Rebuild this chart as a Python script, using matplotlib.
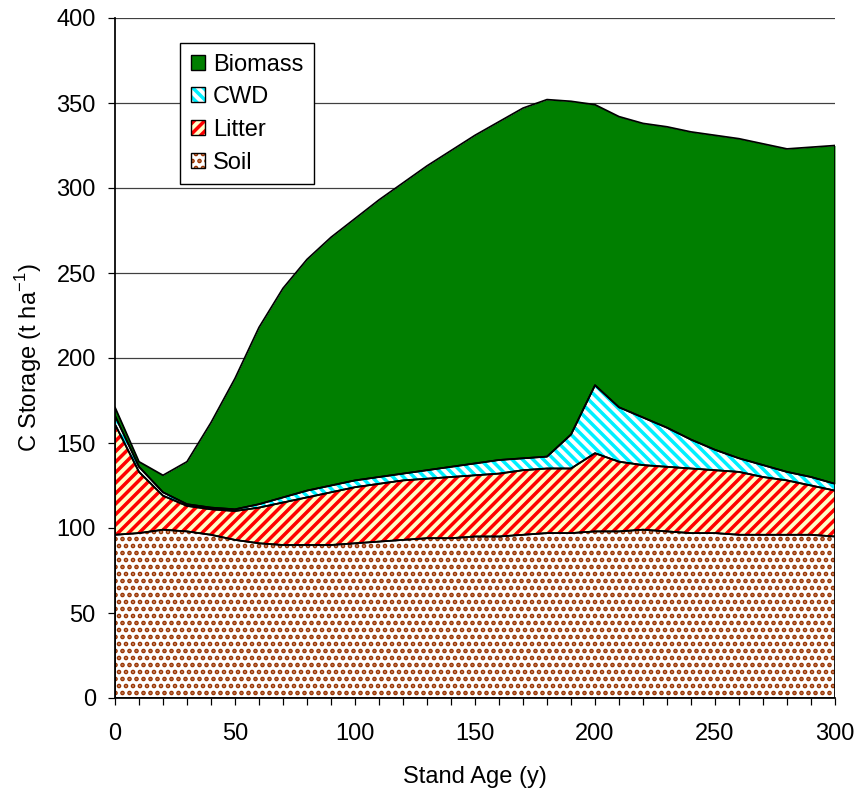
import numpy as np
import matplotlib
matplotlib.use('Agg')
import matplotlib.pyplot as plt
from matplotlib.patches import Patch, Rectangle
from matplotlib.ticker import MultipleLocator

# stand age (y) and carbon pools (t/ha)
age = np.arange(0, 301, 10)
soil = [96, 97, 99, 98, 96, 93, 91, 90, 90, 90, 91, 92, 93, 94, 94, 95,
        95, 96, 97, 97, 98, 98, 99, 98, 97, 97, 96, 96, 96, 96, 95]
litter = [65, 36, 20, 15, 15, 17, 21, 25, 28, 31, 33, 34, 35, 35, 36, 36,
          37, 38, 38, 38, 46, 41, 38, 38, 38, 37, 37, 34, 32, 29, 27]
cwd = [5, 3, 2, 1, 1, 1, 2, 3, 4, 4, 4, 4, 4, 5, 6, 7,
       8, 7, 7, 20, 40, 32, 28, 23, 17, 12, 8, 7, 5, 5, 4]
biomass = [5, 3, 10, 25, 50, 77, 104, 123, 136, 146, 154, 163, 171, 179, 186, 193,
           199, 206, 210, 196, 165, 171, 173, 177, 181, 185, 188, 189, 190, 194, 199]

names = ['Soil', 'Litter', 'CWD', 'Biomass']
# (face colour, hatch colour, hatch, hatch linewidth)
styles = [('white', '#993300', '...', 1.8),
          ('#ffffc8', '#ff0000', '////', 2.0),
          ('white', '#00f0ff', '\\\\\\\\', 2.0),
          ('#007f00', '#007f00', None, 1.0)]
hatch_lw = {s[2]: s[3] for s in styles if s[2]}

DPI = 126
plt.rcParams['font.family'] = ['Liberation Sans', 'DejaVu Sans']
plt.rcParams['font.size'] = 13.5

fig = plt.figure(figsize=(859 / DPI, 794 / DPI), dpi=DPI)
ax = fig.add_axes([115 / 859, 1 - 698 / 794, 720 / 859, 680 / 794])

layers = np.cumsum(np.array([soil, litter, cwd, biomass], dtype=float), axis=0)
bottom = np.zeros(len(age))
handles = []
for name, top, (fc, hc, hatch, hlw) in zip(names, layers, styles):
    # hatch linewidth gets picked up when the artist is created
    with plt.rc_context({'hatch.linewidth': hlw}):
        ax.fill_between(age, bottom, top, facecolor=fc, edgecolor=hc,
                        hatch=hatch, linewidth=0, zorder=2)
        h = Patch(facecolor=fc, edgecolor=hc, hatch=hatch, linewidth=0)
    ax.fill_between(age, bottom, top, facecolor='none', edgecolor='black',
                    linewidth=1.0, zorder=3)
    o = Patch(facecolor='none', edgecolor='black', linewidth=0.8)
    handles.append((h, o))
    bottom = top

ax.set_xlim(0, 300)
ax.set_ylim(0, 400)
ax.xaxis.set_major_locator(MultipleLocator(50))
ax.xaxis.set_minor_locator(MultipleLocator(10))
ax.yaxis.set_major_locator(MultipleLocator(50))
ax.tick_params(which='both', direction='out', length=4, width=0.7, colors='black')
ax.tick_params(axis='x', which='major', pad=10)
ax.tick_params(axis='y', which='major', pad=7)
ax.grid(axis='y', color='#404040', linewidth=0.7, zorder=0)
ax.set_axisbelow(True)
for s in ['top', 'right']:
    ax.spines[s].set_visible(False)
for s in ['left', 'bottom']:
    ax.spines[s].set_linewidth(1.0)
    ax.spines[s].set_zorder(4)

ax.set_xlabel('Stand Age (y)', labelpad=12)
ax.set_ylabel('C Storage (t ha$^{\\mathregular{-1}}$)', labelpad=7)

leg = ax.legend(handles[::-1], names[::-1], loc='upper left',
                bbox_to_anchor=(65 / 720, 655 / 680), borderaxespad=0,
                handlelength=0.6, handleheight=0.6, handletextpad=0.35,
                labelspacing=0.45, borderpad=0.45, fancybox=False,
                edgecolor='black', framealpha=1)
leg.get_frame().set_linewidth(0.8)
leg.set_zorder(5)
for r in leg.findobj(Rectangle):
    lw = hatch_lw.get(r.get_hatch())
    if lw is None:
        continue
    if hasattr(r, 'set_hatch_linewidth'):
        r.set_hatch_linewidth(lw)
    elif hasattr(r, '_hatch_linewidth'):
        r._hatch_linewidth = lw

fig.savefig('out.png', dpi=DPI)
